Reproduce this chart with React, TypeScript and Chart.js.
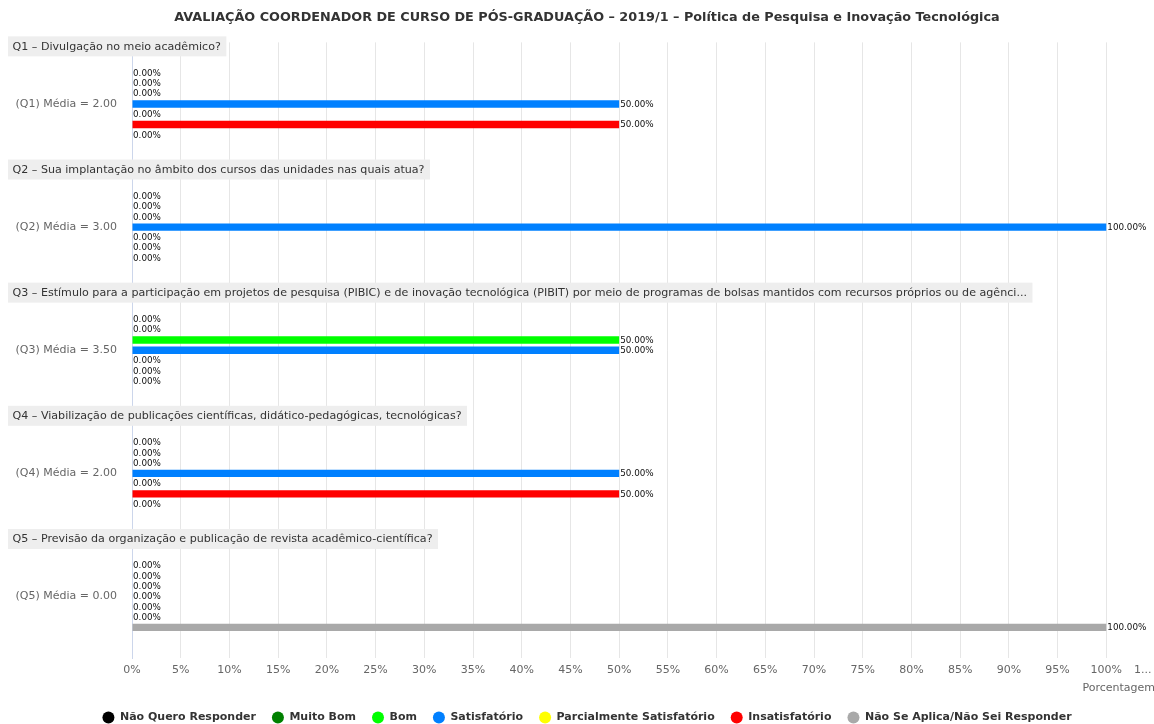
import React, { useEffect, useRef } from 'react';
import { Chart, registerables } from 'chart.js';

Chart.register(...registerables);

const FONT = "'DejaVu Sans', sans-serif";

const chartTitle =
  'AVALIAÇÃO COORDENADOR DE CURSO DE PÓS-GRADUAÇÃO – 2019/1 – Política de Pesquisa e Inovação Tecnológica';

const categories = [
  '(Q1) Média = 2.00',
  '(Q2) Média = 3.00',
  '(Q3) Média = 3.50',
  '(Q4) Média = 2.00',
  '(Q5) Média = 0.00',
];

const questionHeaders = [
  'Q1 – Divulgação no meio acadêmico?',
  'Q2 – Sua implantação no âmbito dos cursos das unidades nas quais atua?',
  'Q3 – Estímulo para a participação em projetos de pesquisa (PIBIC) e de inovação tecnológica (PIBIT) por meio de programas de bolsas mantidos com recursos próprios ou de agênci...',
  'Q4 – Viabilização de publicações científicas, didático-pedagógicas, tecnológicas?',
  'Q5 – Previsão da organização e publicação de revista acadêmico-científica?',
];

const seriesNames = [
  'Não Quero Responder',
  'Muito Bom',
  'Bom',
  'Satisfatório',
  'Parcialmente Satisfatório',
  'Insatisfatório',
  'Não Se Aplica/Não Sei Responder',
];

const seriesColors = ['#000000', '#008000', '#00ff00', '#0080ff', '#ffff00', '#ff0000', '#a9a9a9'];

const naoQueroResponder = [0, 0, 0, 0, 0];
const muitoBom = [0, 0, 0, 0, 0];
const bom = [0, 0, 50, 0, 0];
const satisfatorio = [50, 100, 50, 50, 0];
const parcialmenteSatisfatorio = [0, 0, 0, 0, 0];
const insatisfatorio = [50, 0, 0, 50, 0];
const naoSeAplica = [0, 0, 0, 0, 100];

const seriesValues = [
  naoQueroResponder,
  muitoBom,
  bom,
  satisfatorio,
  parcialmenteSatisfatorio,
  insatisfatorio,
  naoSeAplica,
];

const xMin = 0;
const xMax = 105;
const xStep = 5;
const xAxisTitle = 'Porcentagem';
const lastTickLabel = '1...       ';

const CANVAS_W = 1174;
const CANVAS_H = 733;
const PAD_LEFT = 19;
const PAD_RIGHT = 19;

const overlayPlugin = {
  id: 'overlayLabels',
  afterDraw(chart: any) {
    const { ctx, chartArea } = chart;
    const yScale = chart.scales.y;
    // data labels
    ctx.save();
    ctx.font = `8.8px ${FONT}`;
    ctx.fillStyle = '#111111';
    ctx.textAlign = 'left';
    ctx.textBaseline = 'middle';
    chart.data.datasets.forEach((ds: any, i: number) => {
      const meta = chart.getDatasetMeta(i);
      meta.data.forEach((bar: any, j: number) => {
        const v = ds.data[j] as number;
        const text = v.toFixed(2) + '%';
        const x = v === 0 ? chartArea.left + 1 : bar.x + 1;
        ctx.fillText(text, x, bar.y + 0.5);
      });
    });
    ctx.restore();

    // question headers
    ctx.save();
    ctx.font = `11.1px ${FONT}`;
    ctx.textBaseline = 'middle';
    ctx.textAlign = 'left';
    const band = (chartArea.bottom - chartArea.top) / categories.length;
    questionHeaders.forEach((h, i) => {
      const center = yScale.getPixelForValue(i);
      const bandTop = center - band / 2;
      const boxTop = bandTop - 6;
      const boxH = 20;
      const tw = ctx.measureText(h).width;
      ctx.fillStyle = '#eeeeee';
      ctx.fillRect(8, boxTop, tw + 10, boxH);
      ctx.fillStyle = '#333333';
      ctx.fillText(h, 12.5, boxTop + boxH / 2 + 0.5);
    });
    ctx.restore();
  },
};

export default function App() {
  const canvasRef = useRef<HTMLCanvasElement | null>(null);

  useEffect(() => {
    if (!canvasRef.current) return;
    const chart = new Chart(canvasRef.current, {
      type: 'bar',
      data: {
        labels: categories,
        datasets: seriesNames.map((name, i) => ({
          label: name,
          data: seriesValues[i],
          backgroundColor: seriesColors[i],
          borderColor: seriesColors[i],
          borderWidth: 0,
          categoryPercentage: 0.584,
          barPercentage: 0.72,
        })),
      },
      options: {
        indexAxis: 'y',
        responsive: false,
        animation: false,
        devicePixelRatio: 1,
        layout: { padding: { left: PAD_LEFT, right: PAD_RIGHT, top: 0, bottom: 0 } },
        plugins: {
          title: {
            display: true,
            text: chartTitle,
            color: '#333333',
            font: { family: FONT, size: 12.8, weight: 'bold' },
            padding: { top: 10, bottom: 17 },
          },
          legend: {
            display: true,
            position: 'bottom',
            labels: {
              usePointStyle: true,
              pointStyle: 'circle',
              pointStyleWidth: 12,
              boxHeight: 8.5,
              padding: 16,
              color: '#333333',
              font: { family: FONT, size: 11, weight: 'bold' },
            },
          },
          tooltip: { enabled: false },
        },
        scales: {
          x: {
            type: 'linear',
            position: 'bottom',
            min: xMin,
            max: xMax,
            afterFit(scale: any) {
              scale.paddingRight = 0;
            },
            ticks: {
              stepSize: xStep,
              autoSkip: false,
              maxRotation: 0,
              padding: 5,
              color: '#666666',
              font: { family: FONT, size: 11 },
              callback: (v: any) => (Number(v) === xMax ? lastTickLabel : `${v}%`),
            },
            grid: { display: true, color: '#e6e6e6', lineWidth: 1, drawTicks: false },
            border: { display: false },
            title: {
              display: true,
              text: xAxisTitle,
              align: 'end',
              color: '#666666',
              font: { family: FONT, size: 11 },
              padding: { top: 0, bottom: 1.5 },
            },
          },
          y: {
            type: 'category',
            afterFit(scale: any) {
              scale.width = 132 - PAD_LEFT;
              // let the category labels extend into the layout padding
              scale._computeLabelArea = () => undefined;
            },
            ticks: {
              padding: 15,
              color: '#666666',
              font: { family: FONT, size: 11 },
            },
            grid: { display: false, drawTicks: false },
            border: { display: true, color: '#ccd6eb', width: 1 },
          },
        },
      },
      plugins: [overlayPlugin],
    } as any);
    return () => chart.destroy();
  }, []);

  return (
    <div
      style={{
        position: 'absolute',
        left: 0,
        top: 0,
        width: 1154,
        height: 724,
        overflow: 'hidden',
        background: '#ffffff',
      }}
    >
      <canvas
        ref={canvasRef}
        width={CANVAS_W}
        height={CANVAS_H}
        style={{ width: CANVAS_W, height: CANVAS_H, display: 'block' }}
      />
    </div>
  );
}
